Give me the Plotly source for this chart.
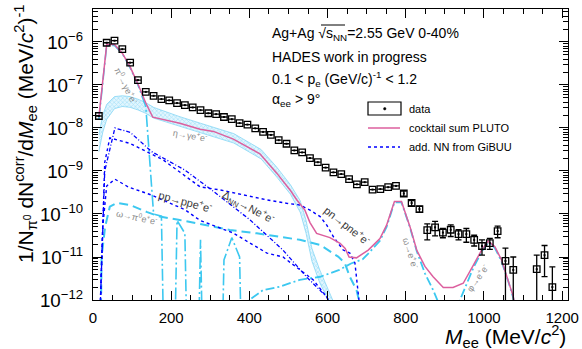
import plotly.graph_objects as go

# ---------------- data ----------------
M_DATA = [15, 35, 55, 75, 95, 115, 135, 155, 175, 195, 215, 235, 255, 275, 295, 315, 335, 355, 375, 395,
          415, 435, 455, 475, 495, 515, 535, 555, 575, 595, 615, 635, 655, 675, 695, 715, 735, 755, 775, 795,
          815, 835, 855, 875, 895, 915, 935, 955, 975, 995, 1015, 1035, 1055, 1075, 1135, 1155, 1175]
Y_DATA = [1.9e-8, 9.6e-7, 1.07e-6, 6.8e-7, 3.3e-7, 1.3e-7, 6.9e-8, 5.6e-8, 4.7e-8, 4.4e-8,
          3.8e-8, 3.4e-8, 3.0e-8, 2.6e-8, 2.2e-8, 2.1e-8, 1.8e-8, 1.6e-8, 1.3e-8, 1.2e-8,
          9.8e-9, 8.1e-9, 6.9e-9, 5.2e-9, 4.3e-9, 3.0e-9, 2.7e-9, 2.0e-9, 1.6e-9, 1.2e-9,
          9.3e-10, 8.5e-10, 6.5e-10, 4.9e-10, 5.5e-10, 3.7e-10, 3.8e-10, 4.2e-10, 4.5e-10, 3.0e-10,
          1.8e-10, 1.3e-10, 4.2e-11, 4.9e-11, 3.7e-11, 4.3e-11, 3.4e-11, 3.4e-11, 2.5e-11, 1.8e-11,
          2.1e-11, 4.0e-11, 8.1e-12, 5.0e-12, 5.2e-12, 1.1e-11, 2.0e-12]
E_UP = [0] * 39 + [4e-11, 2.5e-11, 2.0e-11, 1.7e-11, 1.8e-11, 0.9e-11, 1.3e-11, 0.9e-11, 1.2e-11,
                   0.7e-11, 0.7e-11, 0.6e-11, 1.2e-11, 8.0e-12, 5.0e-12, 5.9e-12, 7.5e-12, 3.9e-12]
E_DN = [0] * 39 + [4e-11, 2.5e-11, 2.0e-11, 1.7e-11, 1.8e-11, 0.9e-11, 1.3e-11, 0.9e-11, 1.2e-11,
                   0.7e-11, 0.7e-11, 0.6e-11, 1.2e-11, 8.2e-12, 5.0e-12, 5.9e-12, 7.5e-12, 3.9e-12]

# cocktail sum PLUTO
M_SUM = [15, 35, 55, 75, 95, 115, 135, 153, 222, 274, 308, 359, 427, 470, 504, 521, 542, 555, 572, 606,
         632, 645, 655, 674, 704, 734, 751, 771, 789, 811, 828, 849, 870, 896, 921, 947, 973, 994, 1011,
         1028, 1045, 1062, 1075, 1085]
Y_SUM = [1.78e-8, 8.71e-7, 8.71e-7, 5.50e-7, 2.63e-7, 1.05e-7, 3.80e-8, 1.78e-8, 1.29e-8, 9.33e-9,
         8.32e-9, 5.50e-9, 2.51e-9, 8.91e-10, 3.63e-10, 2.14e-10, 1.23e-10, 6.31e-11, 3.55e-11, 2.82e-11,
         2.09e-11, 1.58e-11, 1.0e-11, 9.55e-12, 1.45e-11, 2.69e-11, 5.50e-11, 1.95e-10, 1.95e-10, 5.01e-11,
         1.45e-11, 6.03e-12, 3.47e-12, 1.95e-12, 1.95e-12, 2.45e-12, 6.46e-12, 1.45e-11, 2.34e-11,
         1.74e-11, 8.51e-12, 2.95e-12, 1.20e-12, 3.98e-13]

# eta -> gamma e+e- band
M_ETA = [15, 25, 35, 55, 75, 95, 115, 135, 155, 220, 275, 360, 430, 470, 505, 530, 545, 560, 580, 605, 625]
ETA_UP = [7.08e-9, 2.0e-8, 3.55e-8, 5.37e-8, 5.62e-8, 5.37e-8, 4.68e-8, 3.89e-8, 3.02e-8, 1.86e-8,
          1.29e-8, 7.41e-9, 3.16e-9, 1.23e-9, 4.79e-10, 2.04e-10, 7.08e-11, 1.58e-11, 5.01e-12, 1.58e-12, 5.62e-13]
ETA_LO = [2.82e-9, 7.94e-9, 1.58e-8, 2.82e-8, 3.16e-8, 3.02e-8, 2.63e-8, 2.19e-8, 1.70e-8, 1.12e-8,
          7.76e-9, 4.47e-9, 1.91e-9, 7.24e-10, 2.88e-10, 1.10e-10, 3.55e-11, 7.94e-12, 2.51e-12, 8.91e-13, 3.55e-13]

# pi0 -> gamma e+e- (empty bins in the tail set to 1e-20)
M_PI0 = [15, 35, 55, 75, 95, 115, 135, 155, 175, 195, 215, 235, 255, 275, 295, 315, 335, 355, 375, 395]
Y_PI0 = [1.58e-8, 8.32e-7, 8.32e-7, 5.37e-7, 2.51e-7, 1.0e-7, 3.16e-8, 1.0e-10, 8.91e-11, 1e-20,
         7.08e-11, 3.55e-11, 1e-20, 2.51e-11, 1e-20, 1e-20, 8.51e-12, 2.82e-11, 1.0e-11, 1e-20]

# omega -> pi0 e+e-
M_OMD = [20, 22, 31, 43, 61, 95, 137, 171, 222, 291, 350, 419, 478, 529, 581, 627, 644, 657, 674, 683]
Y_OMD = [3.16e-13, 1.02e-11, 5.01e-11, 1.48e-10, 1.82e-10, 1.62e-10, 1.12e-10, 8.71e-11, 7.24e-11, 5.50e-11,
         4.27e-11, 3.55e-11, 2.95e-11, 2.51e-11, 1.91e-11, 1.02e-11, 7.24e-12, 3.47e-12, 1.70e-12, 7.94e-13]

# omega -> e+e-
M_OMEE = [370, 435, 478, 529, 581, 630, 660, 690, 704, 734, 751, 771, 789, 811, 828, 849, 870, 890]
Y_OMEE = [6.31e-13, 1.70e-12, 2.04e-12, 2.95e-12, 3.47e-12, 5.01e-12, 7.08e-12, 8.91e-12, 1.20e-11, 2.40e-11,
          5.01e-11, 1.86e-10, 1.86e-10, 4.79e-11, 1.38e-11, 4.17e-12, 1.70e-12, 6.31e-13]

# phi -> e+e-
M_PHI = [925, 947, 973, 994, 1011, 1028, 1045, 1062, 1075, 1085]
Y_PHI = [5.01e-13, 1.58e-12, 5.62e-12, 1.32e-11, 2.19e-11, 1.62e-11, 7.94e-12, 2.75e-12, 1.12e-12, 3.98e-13]

# GiBUU NN contributions
M_DELTA = [18, 30, 56, 95, 150, 235, 312, 402, 486, 547, 598, 625]
Y_DELTA = [5.01e-13, 1.0e-9, 1.0e-8, 7.94e-9, 2.82e-9, 1.05e-9, 3.16e-10, 7.24e-11, 1.45e-11, 3.39e-12, 1.17e-12, 3.98e-13]
M_PN = [18, 30, 43, 95, 179, 274, 325, 384, 444, 495, 529, 555, 581, 598, 615, 640, 657, 670, 678, 685]
Y_PN = [5.01e-13, 1.58e-9, 5.89e-9, 4.37e-9, 1.82e-9, 4.27e-10, 3.63e-10, 2.75e-10, 2.14e-10, 1.78e-10,
        1.62e-10, 1.23e-10, 8.71e-11, 5.50e-11, 2.95e-11, 1.45e-11, 1.23e-11, 7.24e-12, 1.70e-12, 3.98e-13]
M_PP = [18, 25, 35, 56, 90, 150, 235, 274, 358, 445, 486, 529, 563, 598, 625]
Y_PP = [5.01e-13, 5.01e-11, 4.47e-10, 6.46e-10, 4.27e-10, 2.75e-10, 1.26e-10, 7.08e-11, 3.63e-11, 1.23e-11,
        1.0e-11, 5.01e-12, 2.95e-12, 1.17e-12, 3.98e-13]

LEGEND_LABELS = ["data", "cocktail sum PLUTO", "add. NN from GiBUU"]

# ---------------- styling ----------------
FONT = "Liberation Sans, Arial, Helvetica, sans-serif"
PINK = "#dc5f9e"
CYAN = "#3cc8f0"
BLUE = "#0000ff"
L, R, T, B = 93, 14, 9, 49
W, H = 582, 349
PW, PH = W - L - R, H - T - B


def P(px, py):
    """pixel position in the page -> paper coordinates"""
    return (px - L) / PW, (H - B - py) / PH


fig = go.Figure()

# eta band
fig.add_trace(go.Scatter(x=M_ETA + M_ETA[::-1], y=ETA_UP + ETA_LO[::-1], fill="toself",
                         fillcolor="rgba(130,214,246,0.45)",
                         fillpattern=dict(shape="x", fgcolor="rgba(80,195,240,0.9)", bgcolor="rgba(170,228,250,0.35)",
                                          size=3, solidity=0.35),
                         line=dict(width=0.6, color="rgba(90,200,240,0.9)"),
                         mode="lines", hoverinfo="skip", showlegend=False))
# cyan cocktail components
fig.add_trace(go.Scatter(x=M_OMD, y=Y_OMD, mode="lines",
                         line=dict(color=CYAN, width=2, dash="9px,5px"), showlegend=False))
fig.add_trace(go.Scatter(x=M_PI0, y=Y_PI0, mode="lines",
                         line=dict(color=CYAN, width=1.6, dash="12px,3px,2px,3px"), showlegend=False))
fig.add_trace(go.Scatter(x=M_OMEE, y=Y_OMEE, mode="lines",
                         line=dict(color=CYAN, width=1.8, dash="9px,3px,2px,3px"), showlegend=False))
fig.add_trace(go.Scatter(x=M_PHI, y=Y_PHI, mode="lines",
                         line=dict(color=CYAN, width=1.8, dash="9px,3px,2px,3px"), showlegend=False))
# blue GiBUU components
fig.add_trace(go.Scatter(x=M_DELTA, y=Y_DELTA, mode="lines",
                         line=dict(color=BLUE, width=1.3, dash="4px,2px,1px,2px"), showlegend=False))
fig.add_trace(go.Scatter(x=M_PN, y=Y_PN, mode="lines",
                         line=dict(color=BLUE, width=1.4, dash="dot"), showlegend=False))
fig.add_trace(go.Scatter(x=M_PP, y=Y_PP, mode="lines",
                         line=dict(color=BLUE, width=1.4, dash="dot"), showlegend=False))
# cocktail sum
fig.add_trace(go.Scatter(x=M_SUM, y=Y_SUM, mode="lines", line=dict(color=PINK, width=1.5), showlegend=False))
# data
fig.add_trace(go.Scatter(x=M_DATA, y=Y_DATA, mode="markers",
                         marker=dict(symbol="square-open", size=6.5, color="black", line=dict(width=1.3, color="black")),
                         error_y=dict(type="data", array=E_UP, arrayminus=E_DN, color="black", thickness=1.3, width=3),
                         showlegend=False))
fig.add_trace(go.Scatter(x=M_DATA, y=Y_DATA, mode="markers",
                         marker=dict(symbol="square", size=2, color="black"), showlegend=False))

ann = []
shapes = []


def text(px, py, s, size=14, color="black", xanchor="left", angle=0):
    x, y = P(px, py)
    ann.append(dict(x=x, y=y, xref="paper", yref="paper", text=s, showarrow=False, xanchor=xanchor,
                    yanchor="middle", textangle=angle, font=dict(family=FONT, size=size, color=color)))


# header text
text(270, 34, "Ag+Ag √s<sub>NN</sub>=2.55 GeV 0-40%")
text(270, 57, "HADES work in progress")
text(270, 79, "0.1 < p<sub>e</sub> (GeV/c)<sup>-1</sup> < 1.2")
text(270, 100, "α<sub>ee</sub> > 9°")
x0, y0 = P(321, 25)
x1, _ = P(345, 25)
shapes.append(dict(type="line", xref="paper", yref="paper", x0=x0, x1=x1, y0=y0, y1=y0,
                   line=dict(color="black", width=1)))

# legend (drawn by hand to match ROOT look)
bx0, by0 = P(368, 102)
bx1, by1 = P(401, 115)
shapes.append(dict(type="rect", xref="paper", yref="paper", x0=bx0, x1=bx1, y0=by0, y1=by1,
                   line=dict(color="black", width=1.2)))
cx0, cy0 = P(383.5, 107.5)
cx1, cy1 = P(386, 110)
shapes.append(dict(type="circle", xref="paper", yref="paper", x0=cx0, x1=cx1, y0=cy0, y1=cy1,
                   fillcolor="black", line=dict(color="black", width=0.5)))
lx0, ly = P(368, 128)
lx1, _ = P(400, 128)
shapes.append(dict(type="line", xref="paper", yref="paper", x0=lx0, x1=lx1, y0=ly, y1=ly,
                   line=dict(color=PINK, width=1.5)))
lx0, ly = P(368, 147)
shapes.append(dict(type="line", xref="paper", yref="paper", x0=lx0, x1=lx1, y0=ly, y1=ly,
                   line=dict(color=BLUE, width=1.4, dash="dot")))
for lab, py in zip(LEGEND_LABELS, [109, 128, 147]):
    text(407, py, lab, size=11)

# curve labels
GRAY = "#8a8a8a"
DARK = "#3a3a3a"
text(126, 85, "π<sup>0</sup>→γe<sup>+</sup>e<sup>-</sup>", size=9, color=GRAY, xanchor="center", angle=63)
text(190, 135, "η→γe<sup>+</sup>e<sup>-</sup>", size=9, color=GRAY, xanchor="center", angle=10)
text(185, 201, "pp→ppe<sup>+</sup>e<sup>-</sup>", size=11, color=DARK, xanchor="center", angle=15)
text(248, 207, "Δ<sub>NN</sub>→Ne<sup>+</sup>e<sup>-</sup>", size=11, color=DARK, xanchor="center", angle=28)
text(137, 217, "ω→π<sup>0</sup>e<sup>+</sup>e<sup>-</sup>", size=9, color=GRAY, xanchor="center", angle=12)
text(347, 225, "pn→pne<sup>+</sup>e<sup>-</sup>", size=11, color=DARK, xanchor="center", angle=38)
text(411, 253, "ω→e<sup>+</sup>e<sup>-</sup>", size=9, color=GRAY, xanchor="center", angle=72)
text(477, 278, "φ→e<sup>+</sup>e<sup>-</sup>", size=9, color=GRAY, xanchor="center", angle=-55)

# axis titles
xt, yt = P(568, 336)
ann.append(dict(x=1.0, y=yt, xref="paper", yref="paper", showarrow=False, xanchor="right", yanchor="middle",
                text="<i>M</i><sub>ee</sub> (MeV/<i>c</i><sup>2</sup>)", font=dict(family=FONT, size=21)))
xt, yt = P(25, 3)
ann.append(dict(x=xt, y=yt, xref="paper", yref="paper", showarrow=False, xanchor="center", yanchor="top",
                textangle=-90,
                text="1/N<sub>π<sup>0</sup></sub> dN<sup>corr</sup>/d<i>M</i><sub>ee</sub> (MeV/<i>c</i><sup>2</sup>)<sup>-1</sup>",
                font=dict(family=FONT, size=21)))

fig.update_layout(
    width=W, height=H, margin=dict(l=L, r=R, t=T, b=B, autoexpand=False),
    paper_bgcolor="white", plot_bgcolor="white",
    font=dict(family=FONT, size=15, color="black"),
    annotations=ann, shapes=shapes, showlegend=False,
    xaxis=dict(range=[0, 1215], showline=True, linecolor="black", linewidth=1, mirror="allticks",
               ticks="inside", ticklen=9, tickwidth=1, tickcolor="black", dtick=200, tick0=0,
               minor=dict(dtick=50, ticks="inside", ticklen=5, tickcolor="black"), automargin=False,
               showgrid=False, zeroline=False, tickfont=dict(size=15), ticklabelstandoff=4),
    yaxis=dict(type="log", range=[-12, -5.233], showline=True, linecolor="black", linewidth=1,
               mirror="allticks", ticks="inside", ticklen=9, tickwidth=1, tickcolor="black", dtick=1,
               exponentformat="power", minor=dict(dtick="D1", ticks="inside", ticklen=5, tickcolor="black"),
               automargin=False, showgrid=False, zeroline=False, tickfont=dict(size=15), ticklabelstandoff=6),
)

fig.write_html("out.html", config={"displayModeBar": False},
               post_script="document.body.style.margin='0px';")
